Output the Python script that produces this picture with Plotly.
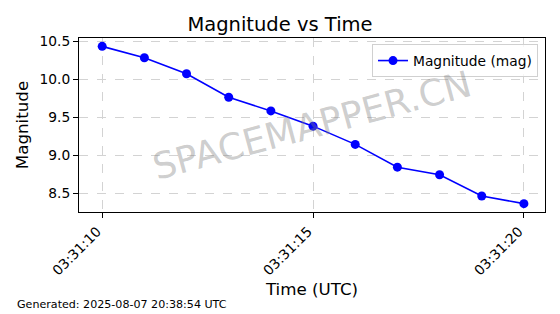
import plotly.graph_objects as go

times = ["2025-08-07 03:31:10", "2025-08-07 03:31:11", "2025-08-07 03:31:12", "2025-08-07 03:31:13",
         "2025-08-07 03:31:14", "2025-08-07 03:31:15", "2025-08-07 03:31:16", "2025-08-07 03:31:17",
         "2025-08-07 03:31:18", "2025-08-07 03:31:19", "2025-08-07 03:31:20"]
magnitude = [10.43, 10.28, 10.07, 9.76, 9.58, 9.38, 9.14, 8.84, 8.74, 8.46, 8.36]
tick_vals = ["2025-08-07 03:31:10", "2025-08-07 03:31:15", "2025-08-07 03:31:20"]
tick_text = ["03:31:10", "03:31:15", "03:31:20"]
y_ticks = [8.5, 9.0, 9.5, 10.0, 10.5]

FONT = "DejaVu Sans"

fig = go.Figure()
fig.add_trace(go.Scatter(
    x=times, y=magnitude, mode="lines+markers", name="Magnitude (mag)",
    line=dict(color="#0000ff", width=1.6),
    marker=dict(color="#0000ff", size=9),
))

fig.update_layout(
    width=560, height=314,
    margin=dict(l=79, r=15, t=38, b=102),
    paper_bgcolor="white", plot_bgcolor="white",
    font=dict(family=FONT, color="black", size=13),
    title=dict(text="Magnitude vs Time", x=0.5, xanchor="center", y=0.922, yanchor="middle",
               font=dict(size=19.5, family=FONT)),
    showlegend=True,
    legend=dict(x=0.985, y=0.965, xanchor="right", yanchor="top",
                bgcolor="rgba(255,255,255,0.8)", bordercolor="#d0d0d0", borderwidth=1,
                font=dict(size=13.8, family=FONT)),
)
fig.update_xaxes(
    type="date",
    range=["2025-08-07 03:31:09.45", "2025-08-07 03:31:20.5"],
    tickvals=tick_vals, ticktext=tick_text, tickangle=-45,
    tickfont=dict(size=13.8), ticklabelshift=-5,
    title=dict(text="Time (UTC)", font=dict(size=16.7), standoff=5),
    showline=True, linecolor="black", linewidth=1, mirror=True,
    ticks="outside", ticklen=5, tickcolor="black",
    showgrid=True, gridcolor="#d3d3d3", griddash="dash", gridwidth=0.8,
    zeroline=False,
)
fig.update_yaxes(
    range=[8.25, 10.54],
    tickvals=y_ticks, ticktext=["8.5", "9.0", "9.5", "10.0", "10.5"],
    tickfont=dict(size=13.8),
    title=dict(text="Magnitude", font=dict(size=16.7), standoff=6),
    showline=True, linecolor="black", linewidth=1, mirror=True,
    ticks="outside", ticklen=5, tickcolor="black",
    showgrid=True, gridcolor="#d3d3d3", griddash="dash", gridwidth=0.8,
    zeroline=False,
)

fig.add_annotation(text="SPACEMAPPER.CN", xref="paper", yref="paper", x=0.5, y=0.5,
                   showarrow=False, textangle=-15,
                   font=dict(size=36.5, color="rgba(128,128,128,0.4)", family=FONT))
fig.add_annotation(text="Generated: 2025-08-07 20:38:54 UTC", xref="paper", yref="paper",
                   x=-0.1375, y=-0.53, xanchor="left", yanchor="middle", showarrow=False,
                   font=dict(size=11.1, family=FONT))

fig.write_html("out.html")
